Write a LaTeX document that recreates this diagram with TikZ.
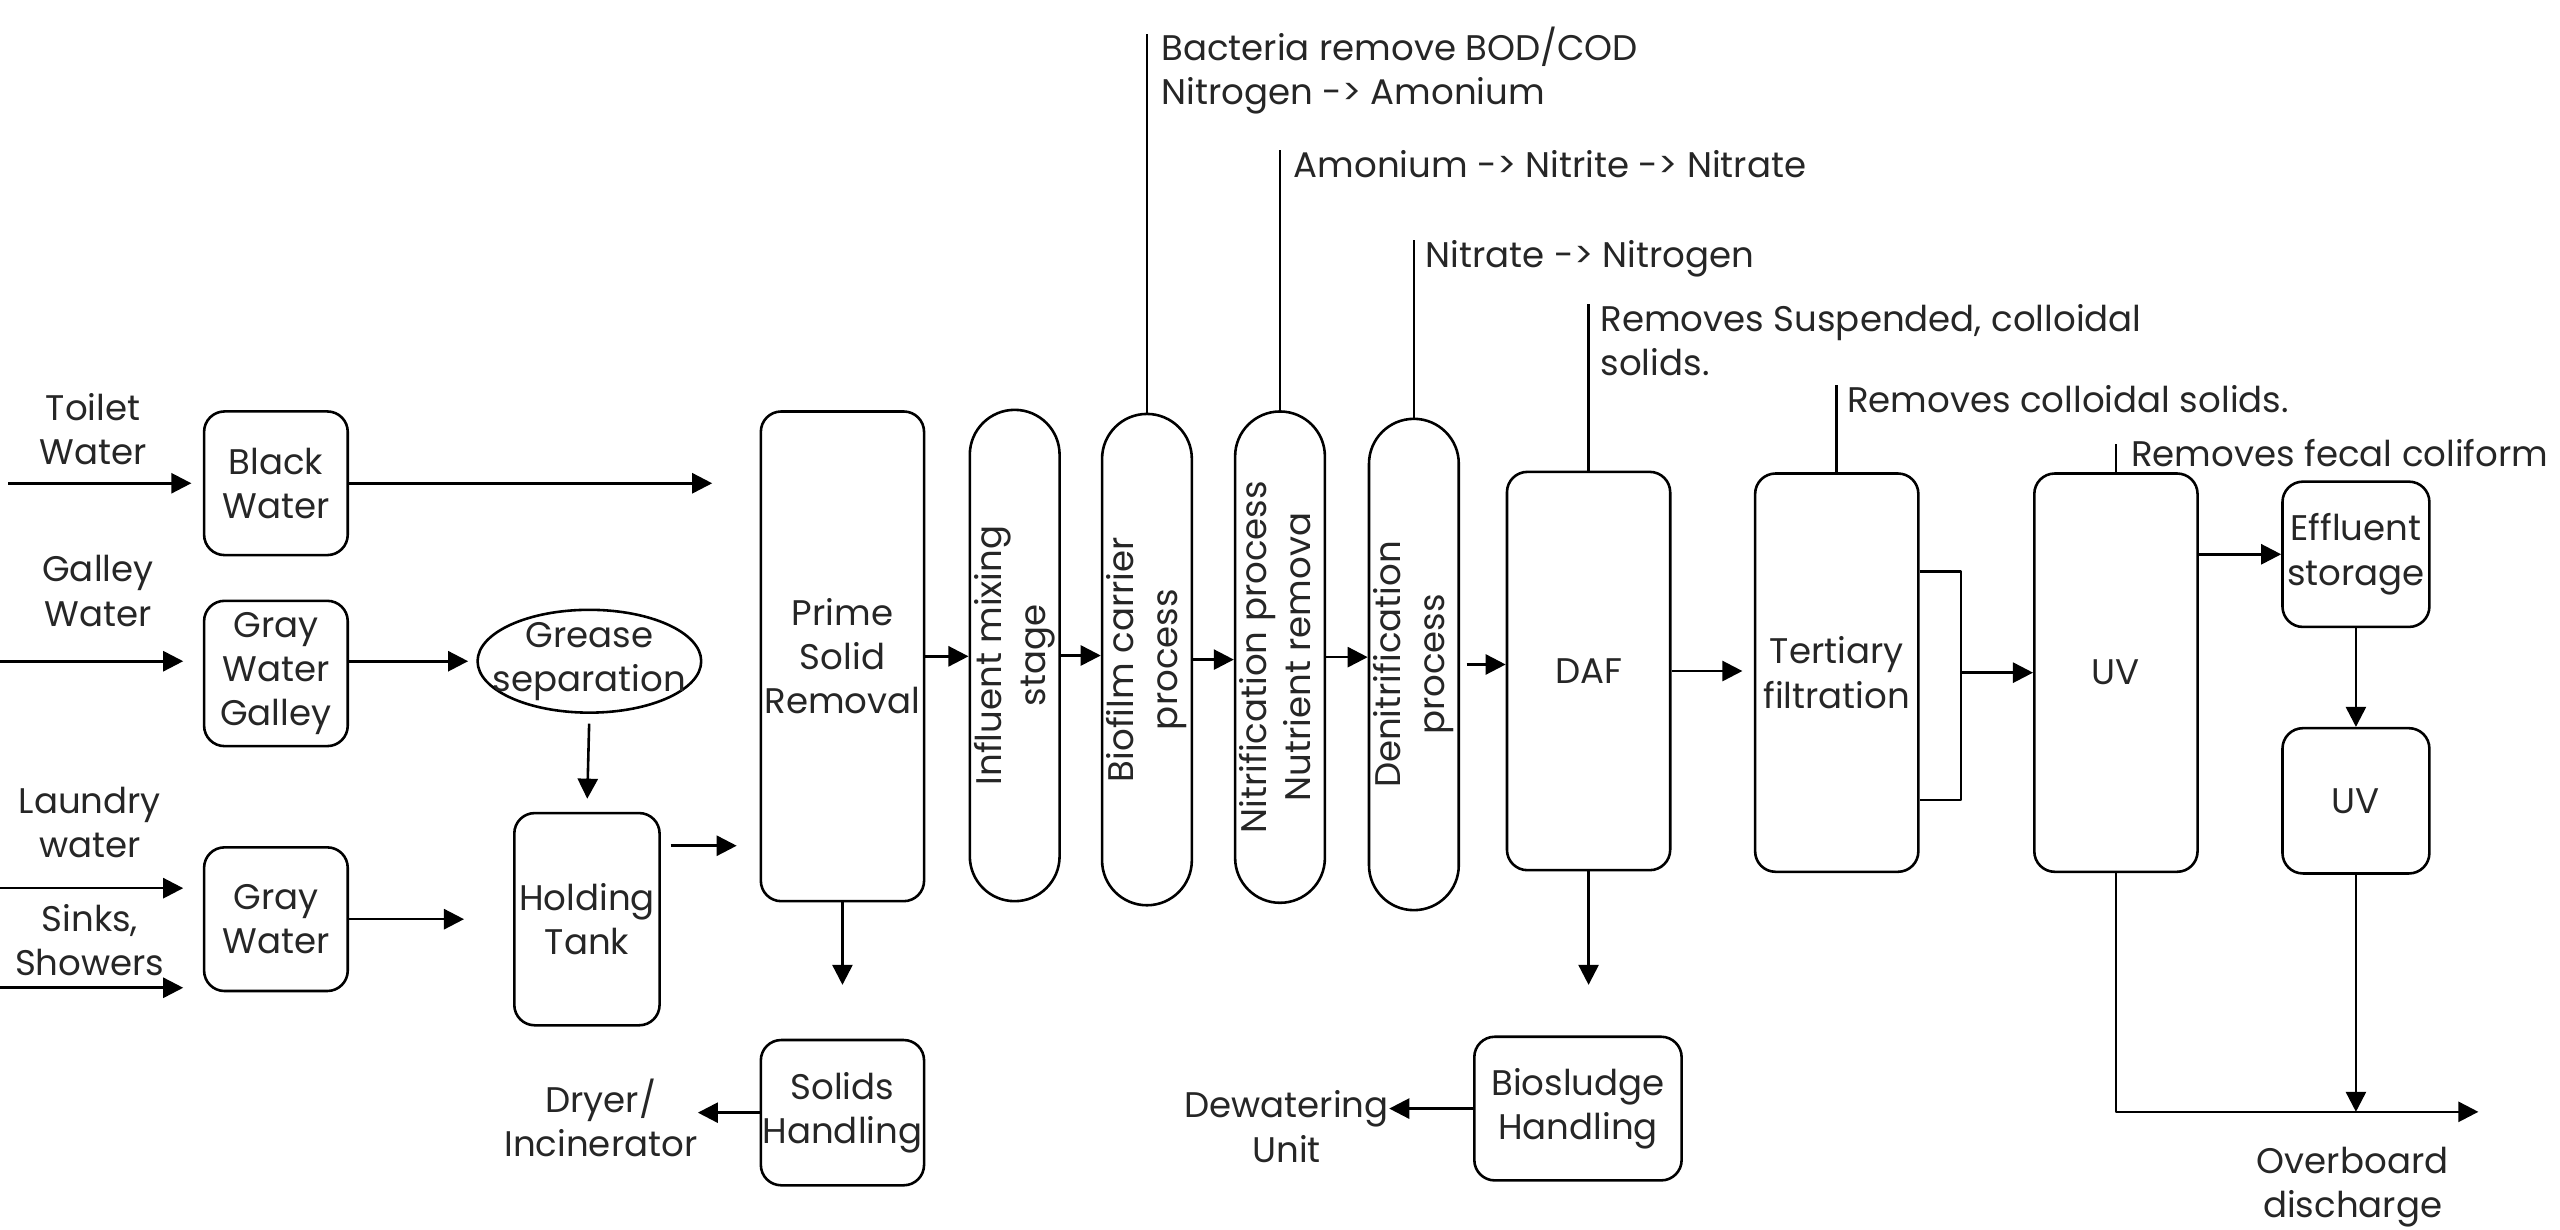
\documentclass[tikz,border=0pt]{standalone}
\usepackage{fontspec}
\setmainfont{Poppins}
\usepackage{graphicx}
\usetikzlibrary{positioning,shapes.geometric,arrows.meta}
\tikzset{%
  fl/.style = {-{Triangle[length=7pt,width=7pt]},line width=0.9pt},
  bx/.style = {rectangle,draw,rounded corners=0.25cm,line width=0.9pt,
        inner sep=0pt,align=center},
  pl/.style = {rectangle,draw,rounded corners=0.55cm,line width=0.9pt,
        inner sep=0pt,minimum width=1.1cm,minimum height=6.02cm},
  ov/.style = {ellipse,draw,line width=0.9pt,minimum width=2.74cm,
        minimum height=1.26cm,inner xsep=-0.22cm,inner ysep=-0.12cm,align=center},
  tx/.style = {align=center,inner sep=0pt},
  nt/.style = {align=left,inner sep=0pt}
}
\newcommand{\vtext}[1]{\rotatebox{90}{\begin{tabular}{@{}c@{}}#1\end{tabular}}}

\begin{document}
\begin{tikzpicture}[
x=0.02cm,y=-0.02cm,
every node/.style={font=\fontsize{12.4}{15.4}\selectfont,text=black!85},
line join=round
]
\useasboundingbox (0,0) rectangle (1568,753);

\node[bx,minimum width=1.76cm,minimum height=1.76cm] (black) at (169,296) {Black\\Water};
\node[bx,minimum width=1.76cm,minimum height=1.78cm] (ggal) at (169,412.5) {Gray\\Water\\Galley};
\node[bx,minimum width=1.76cm,minimum height=1.76cm] (gray) at (169,563) {Gray\\Water};
\node[ov] (grease) at (361,405) {Grease\\separation};
\node[bx,minimum width=1.78cm,minimum height=2.6cm] (hold) at (359.5,563) {Holding\\Tank};
\node[bx,minimum width=2cm,minimum height=6cm] (prime) at (516,402) {Prime\\Solid\\Removal};
\node[bx,minimum width=2cm,minimum height=1.78cm] (solids) at (516,681.5) {Solids\\Handling};
\node[pl] (infl) at (621.5,401.5) {\vtext{Influent mixing\\stage}};
\node[pl] (bio) at (702.5,404) {\vtext{Biofilm carrier\\process}};
\node[pl] (nitri) at (784,402.5) {\vtext{Nitrification process\\Nutrient remova}};
\node[pl] (denit) at (866,407) {\vtext{Denitrification\\process}};
\node[bx,minimum width=2cm,minimum height=4.88cm] (daf) at (973,411) {DAF};
\node[bx,minimum width=2cm,minimum height=4.88cm] (ter) at (1125,412) {Tertiary\\filtration};
\node[bx,minimum width=2cm,minimum height=4.88cm] (uv) at (1296,412) {UV};
\node[bx,minimum width=1.8cm,minimum height=1.78cm] (eff) at (1443,339.5) {Effluent\\storage};
\node[bx,minimum width=1.8cm,minimum height=1.78cm] (uv2) at (1443,490.5) {UV};
\node[bx,minimum width=2.54cm,minimum height=1.76cm] (biosl) at (966.5,679) {Biosludge\\Handling};

\node[tx] (toilet) at (57,263) {Toilet\\Water};
\node[tx] (galley) at (60,362) {Galley\\Water};
\node[tx] (laundry) at (55,504) {Laundry\\water};
\node[tx] (sinks) at (55,576) {Sinks,\\Showers};
\node[tx] (dryer) at (368,684.5) {Dryer/\\Incinerator};
\node[tx] (dewat) at (788,690) {Dewatering\\Unit};
\node[tx] (overb) at (1441,727) {Overboard\\discharge};

\coordinate (in1) at (5,296);
\coordinate (in2) at (0,405);
\coordinate (in3) at (0,544);
\coordinate (in4) at (0,605);
\draw[fl,shorten >=0.14cm] (in1) -- (in1 -| black.west);
\draw[fl,shorten >=0.24cm] (in2) -- (in2 -| ggal.west);
\draw[fl,shorten >=0.24cm] (in3) -- (in3 -| gray.west);
\draw[fl,shorten >=0.24cm] (in4) -- (in4 -| gray.west);
\draw[fl,shorten >=0.58cm] (black.east) -- (black.east -| prime.west);
\draw[fl,shorten >=0.1cm] (ggal.east |- grease.west) -- (grease.west);
\draw[fl,shorten <=0.12cm,shorten >=0.16cm] (grease.south) -- (hold.north);
\draw[fl,shorten >=0.6cm] (gray.east |- hold.west) -- (hold.west);
\draw[fl,shorten <=0.12cm,shorten >=0.28cm] ([yshift=0.9cm]hold.east) -- ([yshift=0.9cm]hold.east -| prime.west);
\draw[fl,shorten >=0.66cm] (prime.south) -- (solids.north);
\draw[fl] (solids.west) -- (solids.west -| dryer.east);

\draw[fl] (prime.east) -- (prime.east -| infl.west);
\draw[fl] (infl.east) -- (infl.east -| bio.west);
\draw[fl] (bio.east) -- (bio.east -| nitri.west);
\draw[fl] (nitri.east) -- (nitri.east -| denit.west);
\draw[fl,shorten <=0.08cm] (denit.east) -- (denit.east -| daf.west);
\draw[fl,shorten >=0.14cm] (daf.east) -- (daf.east -| ter.west);

\coordinate (br1) at (1201,350);
\coordinate (br2) at (1201,490);
\draw[line width=0.9pt] (ter.east |- br1) -- (br1) -- (br2) -- (ter.east |- br2);
\draw[fl] (br1 |- uv.west) -- (uv.west);
\draw[fl] (uv.east |- eff.west) -- (eff.west);
\draw[fl] (eff.south) -- (uv2.north);
\coordinate (ob1) at (1296,681);
\coordinate (ob2) at (1518,681);
\draw[fl] (uv.south) -- (ob1) -- (ob2);
\draw[fl] (uv2.south) -- (uv2.south |- ob2);
\draw[fl,shorten >=0.62cm] (daf.south) -- (daf.south |- biosl.north);
\draw[fl] (biosl.west) -- (biosl.west -| dewat.east);

\coordinate (a1) at (703,21);
\coordinate (a2) at (784,92);
\coordinate (a3) at (866,147);
\coordinate (a4) at (973,186);
\coordinate (a5) at (1126,236);
\coordinate (a6) at (1296,272);
\draw[line width=0.9pt] (bio.north) -- (bio.north |- a1);
\draw[line width=0.9pt] (nitri.north) -- (nitri.north |- a2);
\draw[line width=0.9pt] (denit.north) -- (denit.north |- a3);
\draw[line width=0.9pt] (daf.north) -- (daf.north |- a4);
\draw[line width=0.9pt] (ter.north) -- (ter.north |- a5);
\draw[line width=0.9pt] (uv.north) -- (uv.north |- a6);
\node[nt,below right=-0.1cm and 0.16cm of a1] (n1) {Bacteria remove BOD/COD\\Nitrogen -> Amonium};
\node[nt,below right=0pt and 0.16cm of a2] (n2) {Amonium -> Nitrite -> Nitrate};
\node[nt,below right=0pt and 0.14cm of a3] (n3) {Nitrate -> Nitrogen};
\node[nt,below right=0pt and 0.14cm of a4] (n4) {Removes Suspended, colloidal\\solids.};
\node[nt,below right=0pt and 0.1cm of a5] (n5) {Removes colloidal solids.};
\node[nt,below right=-0.06cm and 0.18cm of a6] (n6) {Removes fecal coliform};
\end{tikzpicture}
\end{document}
